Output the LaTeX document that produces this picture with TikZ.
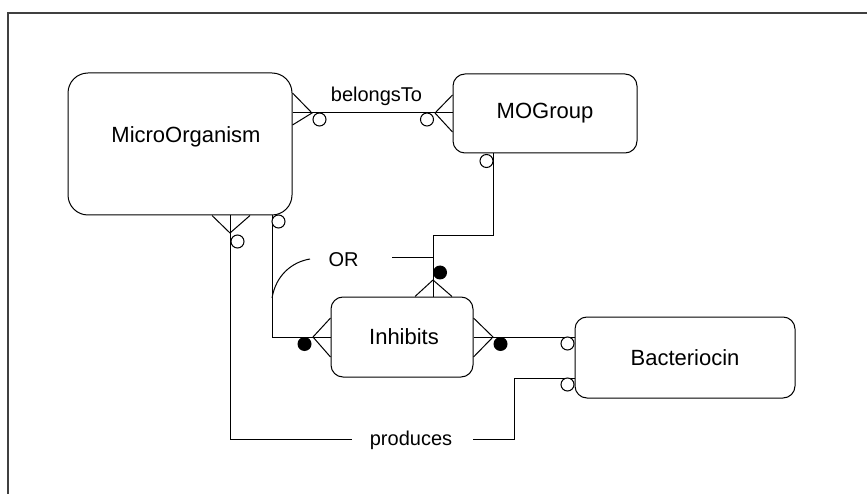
\documentclass[tikz,border=0pt]{standalone}
\usepackage{fontspec}
\setmainfont{Liberation Sans}
\begin{document}
\begin{tikzpicture}[x=1pt,y=-1pt,
  ent/.style={draw, line width=1pt, rounded corners=12pt, inner sep=0pt},
  entname/.style={font=\fontsize{22}{26}\selectfont, inner sep=0pt},
  lbl/.style={font=\fontsize{20}{24}\selectfont, inner sep=0pt, anchor=base},
  link/.style={line width=1pt},
  optmark/.style={draw, fill=white, line width=1pt, circle, minimum size=13pt, inner sep=0pt},
  mustmark/.style={fill=black, circle, minimum size=14pt, inner sep=0pt},
  frame/.style={line width=2pt, draw=black!75}]
\useasboundingbox (0,0) rectangle (867,494);
\fill[white] (0,0) rectangle (867,494);
% outer frame (only its top and left edges fall inside the page)
\draw[frame] (8,494) -- (8,13) -- (867,13);

% entities
\node[ent, minimum width=224pt, minimum height=142pt, rounded corners=20pt] (mo) at (180,144) {};
\node[entname] (moname) at (186,137) {MicroOrganism};
\node[ent, minimum width=184pt, minimum height=79pt] (mg) at (545,113.5) {};
\node[entname] (mgname) at (545,113.5) {MOGroup};
\node[ent, minimum width=142pt, minimum height=80pt] (inh) at (402,337) {};
\node[entname] (inhname) at (404,337) {Inhibits};
\node[ent, minimum width=220pt, minimum height=81pt] (bac) at (685,357.5) {};
\node[entname] (bacname) at (685,357.5) {Bacteriocin};

% connection points on the entity edges
\coordinate (moR) at (mo.east |- 0,113);
\coordinate (mgL) at (mg.west |- 0,113);
\coordinate (mgB) at (mg.south -| 493,0);
\coordinate (inhT) at (inh.north -| 433,0);
\coordinate (moB1) at (mo.south -| 272,0);
\coordinate (inhL) at (inh.west |- 0,337);
\coordinate (inhR) at (inh.east |- 0,337);
\coordinate (bacL1) at (bac.west |- 0,337);
\coordinate (bacL2) at (bac.west |- 0,378);
\coordinate (moB2) at (mo.south -| 230,0);

% belongsTo
\draw[link] (moR) -- (mgL);
\draw[link] (mo.east |- 0,93) -- (312,113) -- (mo.east |- 0,125);
\draw[link] (mg.west |- 0,95) -- (435,113) -- (mg.west |- 0,132);
\node[optmark] (o1) at (319.5,119.5) {};
\node[optmark] (o2) at (427,119.5) {};
\node[lbl] (belongs) at (376.5,102) {belongsTo};

% MOGroup -- Inhibits
\draw[link] (mgB) -- (493,236) -- (433,236) -- (inhT);
\node[optmark] (o3) at (486.5,161) {};
\draw[link] (inh.north -| 415,0) -- (433,280) -- (inh.north -| 452,0);
\node[mustmark] (m1) at (440,272.5) {};

% MicroOrganism -- Inhibits
\draw[link] (moB1) -- (272,337) -- (inhL);
\node[optmark] (o4) at (278.5,221.5) {};
\draw[link] (inh.west |- 0,318) -- (313,337) -- (inh.west |- 0,357);
\node[mustmark] (m2) at (304.5,344) {};

% the two Inhibits links are alternatives
\coordinate (orA) at (392,258);
\draw[link] (orA) -- (433,258);
\draw[link] (272,298) .. controls (276,275) and (292,262) .. (310,259);
\node[lbl] (or) at (343.5,267) {OR};

% Inhibits -- Bacteriocin
\draw[link] (inhR) -- (bacL1);
\draw[link] (inh.east |- 0,318) -- (493,337) -- (inh.east |- 0,357);
\node[mustmark] (m3) at (500.5,344) {};
\node[optmark] (o5) at (567.5,343.5) {};

% produces
\coordinate (pr1) at (352,439);
\coordinate (pr2) at (473,439);
\draw[link] (moB2) -- (230,439) -- (pr1);
\draw[link] (pr2) -- (514,439) -- (514,378) -- (bacL2);
\draw[link] (mo.south -| 212,0) -- (230,233) -- (mo.south -| 250,0);
\node[optmark] (o6) at (237.5,241.5) {};
\node[optmark] (o7) at (567.5,384.5) {};
\node[lbl] (produces) at (411,445) {produces};
\end{tikzpicture}
\end{document}
